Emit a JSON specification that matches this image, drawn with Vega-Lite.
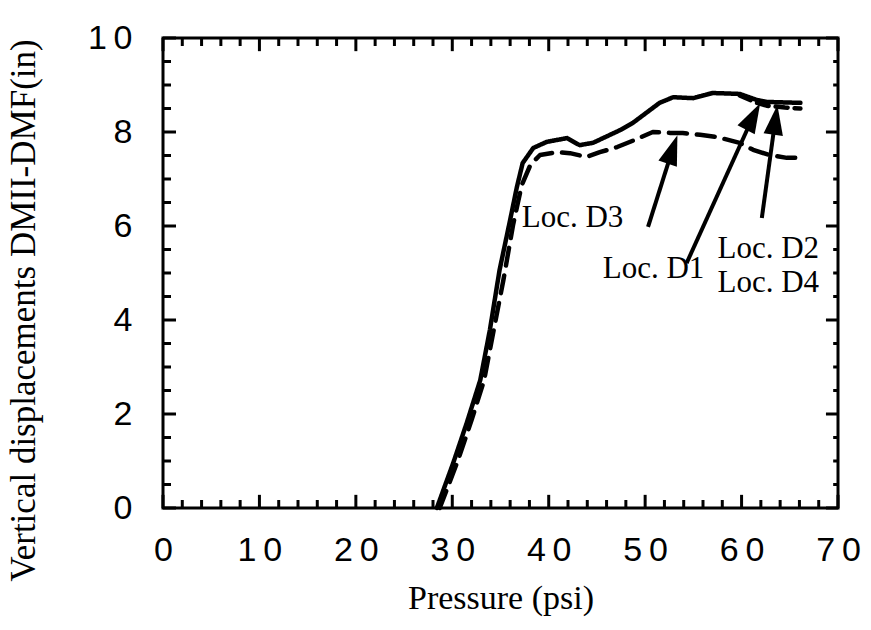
{
  "$schema": "https://vega.github.io/schema/vega-lite/v6.json",
  "width": 675,
  "height": 470,
  "autosize": {"type": "none"},
  "padding": {"left": 163, "top": 38, "right": 33, "bottom": 122},
  "background": "white",
  "config": {
    "view": {"stroke": "black", "strokeWidth": 3},
    "axis": {"domain": false, "ticks": false, "tickSize": 0, "grid": false, "labelColor": "black", "titleColor": "black"}
  },
  "datasets": {
    "curves": [
      {"series": "D3", "p": 28.7, "d": 0},
      {"series": "D3", "p": 30.6, "d": 1.02},
      {"series": "D3", "p": 32.0, "d": 1.87},
      {"series": "D3", "p": 33.3, "d": 2.72},
      {"series": "D3", "p": 34.3, "d": 3.79},
      {"series": "D3", "p": 35.3, "d": 4.85},
      {"series": "D3", "p": 36.3, "d": 6.02},
      {"series": "D3", "p": 37.2, "d": 6.87},
      {"series": "D3", "p": 38.1, "d": 7.30},
      {"series": "D3", "p": 39.1, "d": 7.51},
      {"series": "D3", "p": 40.9, "d": 7.57},
      {"series": "D3", "p": 42.2, "d": 7.55},
      {"series": "D3", "p": 43.9, "d": 7.47},
      {"series": "D3", "p": 45.3, "d": 7.57},
      {"series": "D3", "p": 47.1, "d": 7.68},
      {"series": "D3", "p": 48.9, "d": 7.83},
      {"series": "D3", "p": 50.8, "d": 8.0},
      {"series": "D3", "p": 52.6, "d": 7.98},
      {"series": "D3", "p": 53.9, "d": 7.98},
      {"series": "D3", "p": 55.7, "d": 7.94},
      {"series": "D3", "p": 57.5, "d": 7.89},
      {"series": "D3", "p": 59.8, "d": 7.77},
      {"series": "D3", "p": 61.2, "d": 7.62},
      {"series": "D3", "p": 62.9, "d": 7.51},
      {"series": "D3", "p": 64.7, "d": 7.45},
      {"series": "D3", "p": 66.1, "d": 7.45},
      {"series": "D2", "p": 59.8, "d": 8.78},
      {"series": "D2", "p": 61.6, "d": 8.62},
      {"series": "D2", "p": 62.6, "d": 8.56},
      {"series": "D2", "p": 64.5, "d": 8.52},
      {"series": "D2", "p": 66.1, "d": 8.5},
      {"series": "D1", "p": 28.4, "d": 0},
      {"series": "D1", "p": 30.1, "d": 0.96},
      {"series": "D1", "p": 31.5, "d": 1.81},
      {"series": "D1", "p": 32.9, "d": 2.72},
      {"series": "D1", "p": 33.9, "d": 3.79},
      {"series": "D1", "p": 34.9, "d": 5.06},
      {"series": "D1", "p": 36.0, "d": 6.13},
      {"series": "D1", "p": 36.7, "d": 6.83},
      {"series": "D1", "p": 37.3, "d": 7.34},
      {"series": "D1", "p": 38.4, "d": 7.66},
      {"series": "D1", "p": 39.8, "d": 7.79},
      {"series": "D1", "p": 41.9, "d": 7.87},
      {"series": "D1", "p": 43.2, "d": 7.72},
      {"series": "D1", "p": 44.6, "d": 7.77},
      {"series": "D1", "p": 47.4, "d": 8.04},
      {"series": "D1", "p": 48.7, "d": 8.19},
      {"series": "D1", "p": 51.5, "d": 8.62},
      {"series": "D1", "p": 52.9, "d": 8.74},
      {"series": "D1", "p": 55.0, "d": 8.72},
      {"series": "D1", "p": 57.0, "d": 8.83},
      {"series": "D1", "p": 59.8, "d": 8.81},
      {"series": "D1", "p": 61.6, "d": 8.68},
      {"series": "D1", "p": 62.6, "d": 8.64},
      {"series": "D1", "p": 66.1, "d": 8.62}
    ],
    "labels": [
      {"text": "Loc. D3", "p": 37.2, "d": 5.98},
      {"text": "Loc. D1", "p": 45.6, "d": 4.89},
      {"text": "Loc. D2", "p": 57.5, "d": 5.32},
      {"text": "Loc. D4", "p": 57.5, "d": 4.60}
    ],
    "arrows": [
      {"name": "D3", "p": 50.3, "d": 5.98, "p2": 52.84, "d2": 7.63, "angle": 19},
      {"name": "D1", "p": 54.3, "d": 5.21, "p2": 61.2, "d2": 8.33, "angle": 28},
      {"name": "D2", "p": 62.1, "d": 6.17, "p2": 63.5, "d2": 8.26, "angle": 8}
    ],
    "xticks": [
      {"v": 0, "kind": "major"}, {"v": 2, "kind": "minor"}, {"v": 4, "kind": "minor"}, {"v": 6, "kind": "minor"}, {"v": 8, "kind": "minor"},
      {"v": 10, "kind": "major"}, {"v": 12, "kind": "minor"}, {"v": 14, "kind": "minor"}, {"v": 16, "kind": "minor"}, {"v": 18, "kind": "minor"},
      {"v": 20, "kind": "major"}, {"v": 22, "kind": "minor"}, {"v": 24, "kind": "minor"}, {"v": 26, "kind": "minor"}, {"v": 28, "kind": "minor"},
      {"v": 30, "kind": "major"}, {"v": 32, "kind": "minor"}, {"v": 34, "kind": "minor"}, {"v": 36, "kind": "minor"}, {"v": 38, "kind": "minor"},
      {"v": 40, "kind": "major"}, {"v": 42, "kind": "minor"}, {"v": 44, "kind": "minor"}, {"v": 46, "kind": "minor"}, {"v": 48, "kind": "minor"},
      {"v": 50, "kind": "major"}, {"v": 52, "kind": "minor"}, {"v": 54, "kind": "minor"}, {"v": 56, "kind": "minor"}, {"v": 58, "kind": "minor"},
      {"v": 60, "kind": "major"}, {"v": 62, "kind": "minor"}, {"v": 64, "kind": "minor"}, {"v": 66, "kind": "minor"}, {"v": 68, "kind": "minor"},
      {"v": 70, "kind": "major"}
    ],
    "yticks": [
      {"v": 0, "kind": "major"}, {"v": 0.5, "kind": "minor"}, {"v": 1, "kind": "minor"}, {"v": 1.5, "kind": "minor"},
      {"v": 2, "kind": "major"}, {"v": 2.5, "kind": "minor"}, {"v": 3, "kind": "minor"}, {"v": 3.5, "kind": "minor"},
      {"v": 4, "kind": "major"}, {"v": 4.5, "kind": "minor"}, {"v": 5, "kind": "minor"}, {"v": 5.5, "kind": "minor"},
      {"v": 6, "kind": "major"}, {"v": 6.5, "kind": "minor"}, {"v": 7, "kind": "minor"}, {"v": 7.5, "kind": "minor"},
      {"v": 8, "kind": "major"}, {"v": 8.5, "kind": "minor"}, {"v": 9, "kind": "minor"}, {"v": 9.5, "kind": "minor"},
      {"v": 10, "kind": "major"}
    ]
  },
  "layer": [
    {
      "data": {"name": "xticks"},
      "transform": [{"filter": "datum.kind === 'major'"}],
      "mark": {"type": "rule", "color": "black", "strokeWidth": 3},
      "encoding": {
        "x": {"field": "v", "type": "quantitative"},
        "y": {"datum": 0, "type": "quantitative"},
        "y2": {"datum": 0.28}
      }
    },
    {
      "data": {"name": "xticks"},
      "transform": [{"filter": "datum.kind === 'minor'"}],
      "mark": {"type": "rule", "color": "black", "strokeWidth": 3},
      "encoding": {
        "x": {"field": "v", "type": "quantitative"},
        "y": {"datum": 0, "type": "quantitative"},
        "y2": {"datum": 0.17}
      }
    },
    {
      "data": {"name": "xticks"},
      "transform": [{"filter": "datum.kind === 'major'"}],
      "mark": {"type": "rule", "color": "black", "strokeWidth": 3},
      "encoding": {
        "x": {"field": "v", "type": "quantitative"},
        "y": {"datum": 10, "type": "quantitative"},
        "y2": {"datum": 9.72}
      }
    },
    {
      "data": {"name": "xticks"},
      "transform": [{"filter": "datum.kind === 'minor'"}],
      "mark": {"type": "rule", "color": "black", "strokeWidth": 3},
      "encoding": {
        "x": {"field": "v", "type": "quantitative"},
        "y": {"datum": 10, "type": "quantitative"},
        "y2": {"datum": 9.83}
      }
    },
    {
      "data": {"name": "yticks"},
      "transform": [{"filter": "datum.kind === 'major'"}],
      "mark": {"type": "rule", "color": "black", "strokeWidth": 3},
      "encoding": {
        "y": {"field": "v", "type": "quantitative"},
        "x": {"datum": 0, "type": "quantitative"},
        "x2": {"datum": 1.35}
      }
    },
    {
      "data": {"name": "yticks"},
      "transform": [{"filter": "datum.kind === 'minor'"}],
      "mark": {"type": "rule", "color": "black", "strokeWidth": 3},
      "encoding": {
        "y": {"field": "v", "type": "quantitative"},
        "x": {"datum": 0, "type": "quantitative"},
        "x2": {"datum": 0.83}
      }
    },
    {
      "data": {"name": "yticks"},
      "transform": [{"filter": "datum.kind === 'major'"}],
      "mark": {"type": "rule", "color": "black", "strokeWidth": 3},
      "encoding": {
        "y": {"field": "v", "type": "quantitative"},
        "x": {"datum": 70, "type": "quantitative"},
        "x2": {"datum": 68.75}
      }
    },
    {
      "data": {"name": "yticks"},
      "transform": [{"filter": "datum.kind === 'minor'"}],
      "mark": {"type": "rule", "color": "black", "strokeWidth": 3},
      "encoding": {
        "y": {"field": "v", "type": "quantitative"},
        "x": {"datum": 70, "type": "quantitative"},
        "x2": {"datum": 69.5}
      }
    },
    {
      "data": {"name": "curves"},
      "mark": {"type": "line", "color": "black", "strokeWidth": 4.5, "strokeCap": "round", "strokeJoin": "round"},
      "encoding": {
        "x": {
          "field": "p", "type": "quantitative",
          "scale": {"domain": [0, 70], "nice": false, "zero": false},
          "axis": {
            "orient": "bottom",
            "values": [0,10,20,30,40,50,60,70],
            "labelExpr": "datum.value < 10 ? '0' : floor(datum.value / 10) + '\u2009' + '0'",
            "labelFont": "Liberation Sans", "labelFontSize": 34, "labelPadding": 25, "labelFlush": false,
            "title": "Pressure (psi)", "titleFont": "Liberation Serif", "titleFontSize": 34, "titleFontWeight": "normal", "titlePadding": 14
          }
        },
        "y": {
          "field": "d", "type": "quantitative",
          "scale": {"domain": [0, 10], "nice": false},
          "axis": {
            "orient": "left",
            "values": [0,2,4,6,8,10],
            "labelExpr": "datum.value < 10 ? format(datum.value, 'd') : '1\u20090'",
            "labelFont": "Liberation Sans", "labelFontSize": 34, "labelPadding": 31,
            "title": "Vertical displacements DMII-DMF(in)", "titleFont": "Liberation Serif", "titleFontSize": 35, "titleFontWeight": "normal", "titlePadding": 46, "titleY": 272
          }
        },
        "detail": {"field": "series"},
        "strokeDash": {
          "field": "series", "type": "nominal",
          "scale": {"domain": ["D1", "D2", "D3"], "range": [[1, 0], [12, 7], [18, 10]]},
          "legend": null
        },
        "order": {"field": "p", "type": "quantitative"}
      }
    },
    {
      "data": {"name": "arrows"},
      "mark": {"type": "rule", "color": "black", "strokeWidth": 4},
      "encoding": {
        "x": {"field": "p", "type": "quantitative"},
        "y": {"field": "d", "type": "quantitative"},
        "x2": {"field": "p2"},
        "y2": {"field": "d2"}
      }
    },
    {
      "data": {"name": "arrows"},
      "mark": {"type": "point", "filled": true, "color": "black", "opacity": 1, "shape": "M0,-1L0.65,1L-0.65,1Z", "size": 900},
      "encoding": {
        "x": {"field": "p2", "type": "quantitative"},
        "y": {"field": "d2", "type": "quantitative"},
        "angle": {"field": "angle", "type": "quantitative", "scale": null}
      }
    },
    {
      "data": {"name": "labels"},
      "mark": {"type": "text", "font": "Liberation Serif", "fontSize": 31, "align": "left", "baseline": "alphabetic", "color": "black"},
      "encoding": {
        "x": {"field": "p", "type": "quantitative"},
        "y": {"field": "d", "type": "quantitative"},
        "text": {"field": "text"}
      }
    }
  ]
}
